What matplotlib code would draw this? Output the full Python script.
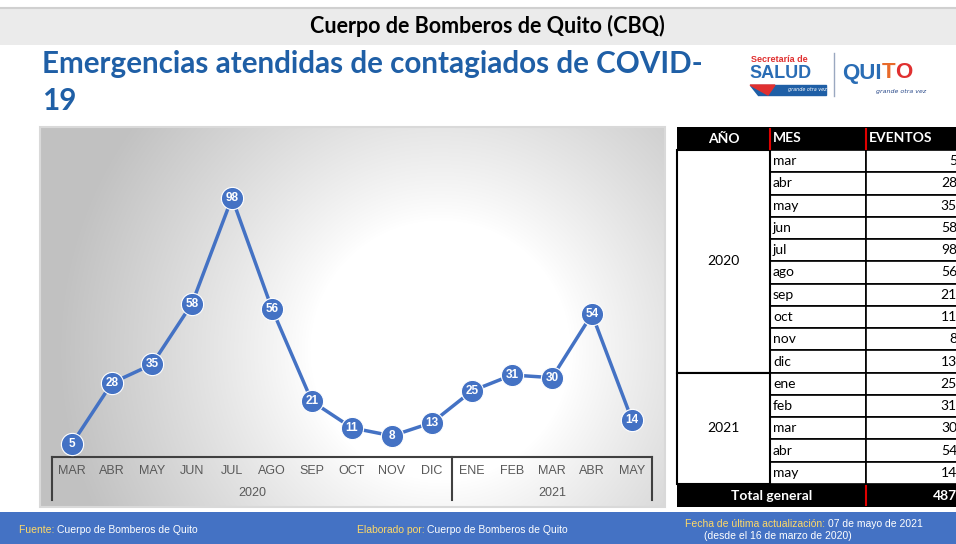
import numpy as np
import matplotlib.pyplot as plt
from matplotlib.patches import Rectangle

# data
months = ['MAR', 'ABR', 'MAY', 'JUN', 'JUL', 'AGO', 'SEP', 'OCT', 'NOV', 'DIC',
          'ENE', 'FEB', 'MAR', 'ABR', 'MAY']
years = ['2020', '2021']
year_counts = [10, 5]
eventos = [5, 28, 35, 58, 98, 56, 21, 11, 8, 13, 25, 31, 30, 54, 14]
mes_tabla = ['mar', 'abr', 'may', 'jun', 'jul', 'ago', 'sep', 'oct', 'nov', 'dic',
             'ene', 'feb', 'mar', 'abr', 'may']

BLUE = '#4472c4'
TITLE_BLUE = '#1f5fa6'
W, H = 956, 544

fig = plt.figure(figsize=(W / 100, H / 100), dpi=100)
fig.patch.set_facecolor('white')

# overlay axes in pixel coordinates for the dashboard decoration
bg = fig.add_axes([0, 0, 1, 1])
bg.set_xlim(0, W)
bg.set_ylim(H, 0)
bg.axis('off')


def run_text(xpos, ypos, parts, **kw):
    # draw consecutive text pieces with different colours
    for txt, col in parts:
        t = bg.text(xpos, ypos, txt, color=col, ha='left', **kw)
        fig.canvas.draw()
        xpos += t.get_window_extent().width


# top band
bg.add_patch(Rectangle((0, 7), W, 38, facecolor='#ebebeb', edgecolor='none'))
bg.plot([0, W], [7.5, 7.5], color='#d0d0d0', lw=1.5)
bg.text(487, 26, 'Cuerpo de Bomberos de Quito (CBQ)', ha='center', va='center',
        fontsize=15.5, fontweight='bold', family='Lato', color='black')

# title
bg.text(42, 64, 'Emergencias atendidas de contagiados de COVID-', ha='left', va='center',
        fontsize=21.3, fontweight='bold', family='Lato', color=TITLE_BLUE)
bg.text(42, 101, '19', ha='left', va='center',
        fontsize=21.3, fontweight='bold', family='Lato', color=TITLE_BLUE)

# logos (text approximation)
bg.text(751, 59, 'Secretaría de', fontsize=6.5, fontweight='bold', color='#e03030',
        family='Liberation Sans', va='center')
bg.text(749, 74, 'SALUD', fontsize=13, fontweight='bold', color='#2a6db5',
        family='Liberation Sans', va='center')
bg.fill([750, 826, 826, 758], [85, 85, 95, 95], color='#1f5fa6')
bg.fill([750, 775, 768], [85, 85, 95], color='#e03030')
bg.text(788, 90, 'grande otra vez', fontsize=3.5, style='italic', color='white', va='center')
bg.plot([834, 834], [53, 96], color='#9aa8c0', lw=1)
run_text(842, 73, [('QUI', '#2a6db5'), ('T', '#e86a2a'), ('O', '#e03030')],
         fontsize=16, fontweight='bold', family='Liberation Sans', va='center')
bg.text(876, 92, 'grande otra vez', fontsize=4.5, style='italic', color='#2a4a8a', va='center')

# chart panel gradient
px0, px1, py0, py1 = 40, 665, 127, 507
xx, yy = np.meshgrid(np.arange(px0, px1), np.arange(py0, py1))
d = np.hypot(xx - 440, yy - 350)
t = np.clip((d - 130) / 250, 0, 1) ** 0.9
shade = 1 - 0.24 * t
bg.imshow(np.dstack([shade, shade, shade]), extent=[px0, px1, py1, py0],
          aspect='auto', interpolation='bilinear', zorder=1)
bg.add_patch(Rectangle((px0, py0), px1 - px0, py1 - py0, facecolor='none',
                       edgecolor='#d9d9d9', lw=1.5, zorder=2))

# line chart axes
ax_l, ax_r, ax_top, ax_bot = 52, 652, 160, 457
ax = fig.add_axes([ax_l / W, (H - ax_bot) / H, (ax_r - ax_l) / W, (ax_bot - ax_top) / H])
ax.patch.set_alpha(0)
ax.set_xlim(-0.5, len(months) - 0.5)
ax.set_ylim(0, (ax_bot - ax_top) / 2.645)
for s in ax.spines.values():
    s.set_visible(False)
ax.set_xticks([])
ax.set_yticks([])

x = np.arange(len(months))
ax.plot(x, eventos, color=BLUE, lw=2.5, zorder=3)
ax.plot(x, eventos, 'o', ms=16, color=BLUE, mec='white', mew=0.8, zorder=4)
for xi, v in zip(x, eventos):
    ax.text(xi, v, str(v), ha='center', va='center', color='white', fontsize=8.5,
            fontweight='bold', family='Liberation Sans', zorder=5)

# category axis box with month and year labels
tr = ax.get_xaxis_transform()
box_h = (ax_bot - 500) / (ax_bot - ax_top)
ax.plot([-0.5, len(months) - 0.5], [0, 0], transform=tr, color='#404040', lw=1.5, clip_on=False)
ax.plot([-0.5, -0.5], [0, box_h], transform=tr, color='#404040', lw=1.5, clip_on=False)
ax.plot([len(months) - 0.5] * 2, [0, box_h], transform=tr, color='#404040', lw=1.5, clip_on=False)
ax.plot([year_counts[0] - 0.5] * 2, [0, box_h], transform=tr, color='#404040', lw=1.5, clip_on=False)
lab_y = -(471 - ax_bot) / (ax_bot - ax_top)
year_y = -(493 - ax_bot) / (ax_bot - ax_top)
for xi, m in zip(x, months):
    ax.text(xi, lab_y, m, transform=tr, ha='center', va='center', fontsize=9,
            color='#595959', family='Liberation Sans', clip_on=False)
start = 0
for yr, n in zip(years, year_counts):
    ax.text(start + (n - 1) / 2, year_y, yr, transform=tr, ha='center', va='center',
            fontsize=9, color='#595959', family='Liberation Sans', clip_on=False)
    start += n

# table on the right
tx0, tx1, tx2, tx3 = 677, 770, 866, 958
hy0, hy1 = 127, 150
row_h = (484 - hy1) / len(eventos)
bg.add_patch(Rectangle((tx0, hy0), W - tx0, hy1 - hy0, facecolor='black', edgecolor='none', zorder=3))
bg.plot([tx1, tx1], [hy0 + 2, hy1 - 1], color='#e00000', lw=1.5, zorder=4)
bg.plot([tx2, tx2], [hy0 + 2, hy1 - 1], color='#e00000', lw=1.5, zorder=4)
tfont = dict(family='Lato', fontsize=10, zorder=5, va='center')
bg.text((tx0 + tx1) / 2, (hy0 + hy1) / 2, 'AÑO', ha='center', color='white', fontweight='bold', **tfont)
bg.text(tx1 + 3, (hy0 + hy1) / 2, 'MES', ha='left', color='white', fontweight='bold', **tfont)
bg.text(tx2 + 3, (hy0 + hy1) / 2, 'EVENTOS', ha='left', color='white', fontweight='bold', **tfont)

for i, (m, v) in enumerate(zip(mes_tabla, eventos)):
    y0 = hy1 + i * row_h
    bg.add_patch(Rectangle((tx1, y0), tx2 - tx1, row_h, facecolor='white', edgecolor='black', lw=1.2, zorder=3))
    bg.add_patch(Rectangle((tx2, y0), tx3 - tx2, row_h, facecolor='white', edgecolor='black', lw=1.2, zorder=3))
    bg.text(tx1 + 3, y0 + row_h / 2, m, ha='left', color='black', **tfont)
    bg.text(W + 1, y0 + row_h / 2, str(v), ha='right', color='black', **tfont)

start = 0
for yr, n in zip(years, year_counts):
    y0 = hy1 + start * row_h
    bg.add_patch(Rectangle((tx0, y0), tx1 - tx0, n * row_h, facecolor='white', edgecolor='black', lw=1.5, zorder=3))
    bg.text((tx0 + tx1) / 2, y0 + n * row_h / 2, yr, ha='center', color='black', **tfont)
    start += n

fy0 = hy1 + len(eventos) * row_h
bg.add_patch(Rectangle((tx0, fy0), W - tx0, 507 - fy0, facecolor='black', edgecolor='none', zorder=3))
bg.plot([tx2, tx2], [fy0 + 2, 505], color='#e00000', lw=1.5, zorder=4)
bg.text((tx0 + tx2) / 2, (fy0 + 507) / 2, 'Total general', ha='center', color='white', fontweight='bold', **tfont)
bg.text(W + 1, (fy0 + 507) / 2, str(sum(eventos)), ha='right', color='white', fontweight='bold', **tfont)

# footer band
bg.add_patch(Rectangle((0, 512), W, 32, facecolor=BLUE, edgecolor='none', zorder=3))
ffont = dict(family=['Liberation Sans Narrow', 'Liberation Sans'], fontsize=7.5, va='center', zorder=4)
YEL = '#ffd966'
run_text(19, 530, [('Fuente: ', YEL), ('Cuerpo de Bomberos de Quito', 'white')], **ffont)
run_text(357, 530, [('Elaborado por: ', YEL), ('Cuerpo de Bomberos de Quito', 'white')], **ffont)
run_text(685, 524, [('Fecha de última actualización: ', YEL), ('07 de mayo de 2021', 'white')], **ffont)
bg.text(704, 536, '(desde el 16 de marzo de 2020)', color='white', ha='left', **ffont)

fig.savefig('out.png', dpi=100)
